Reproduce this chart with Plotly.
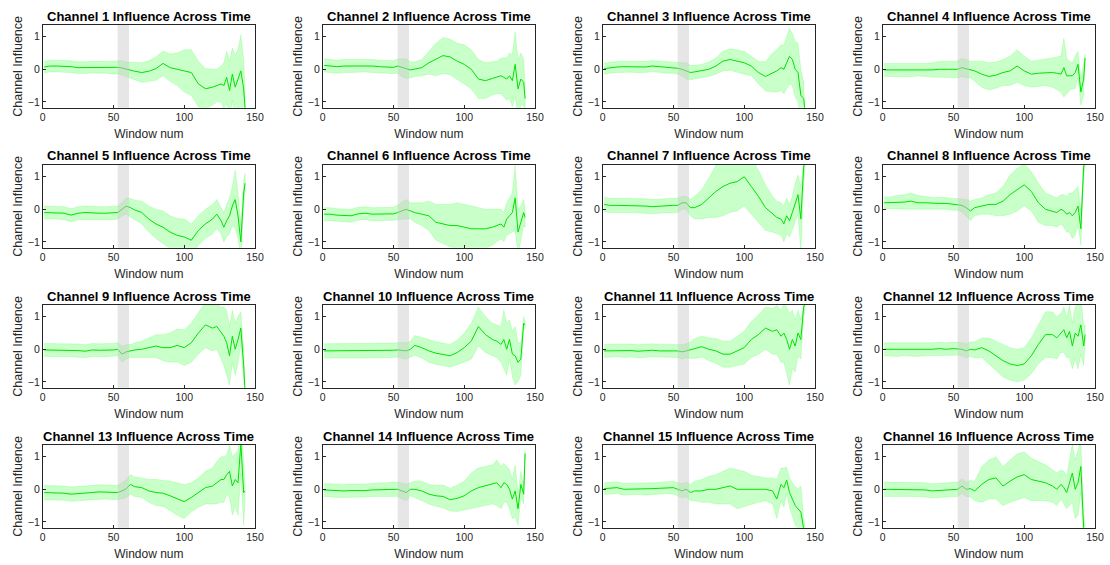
import plotly.graph_objects as go

# ---------------- data ----------------
WINDOW = [1, 5, 10, 15, 20, 25, 30, 35, 40, 45,
          50, 53, 56, 59, 62, 65, 70, 75, 80, 85,
          90, 95, 100, 105, 110, 115, 120, 123, 126, 128,
          130, 132, 134, 136, 138, 140, 142, 143]

GRAY_SPAN = [53, 61]

CH1_MEAN = [0.07, 0.10, 0.10, 0.10, 0.08, 0.05, 0.05, 0.07, 0.06, 0.06,
            0.05, 0.06, 0.04, 0.00, -0.03, -0.06, -0.10, -0.06, 0.02, 0.18,
            0.05, 0.00, -0.05, -0.10, -0.45, -0.60, -0.55, -0.50, -0.45, -0.50,
            -0.25, -0.65, -0.15, -0.55, -0.30, -0.05, -0.60, -1.20]
CH1_SD = [0.18, 0.18, 0.18, 0.18, 0.18, 0.18, 0.18, 0.18, 0.18, 0.18,
          0.20, 0.20, 0.22, 0.22, 0.24, 0.26, 0.30, 0.32, 0.36, 0.38,
          0.42, 0.50, 0.65, 0.70, 0.70, 0.62, 0.55, 0.50, 0.55, 0.70,
          0.80, 0.90, 0.80, 1.00, 0.90, 1.10, 0.90, 0.50]

CH2_MEAN = [0.12, 0.10, 0.08, 0.10, 0.10, 0.10, 0.12, 0.10, 0.08, 0.08,
            0.06, 0.10, 0.05, 0.02, -0.02, 0.00, 0.05, 0.20, 0.30, 0.42,
            0.38, 0.25, 0.15, 0.00, -0.30, -0.35, -0.28, -0.25, -0.20, -0.25,
            -0.30, -0.20, -0.35, 0.15, -0.60, -0.30, -0.40, -0.90]
CH2_SD = [0.20, 0.20, 0.20, 0.20, 0.20, 0.20, 0.20, 0.20, 0.20, 0.20,
          0.20, 0.22, 0.28, 0.30, 0.25, 0.22, 0.25, 0.35, 0.50, 0.55,
          0.55, 0.55, 0.60, 0.60, 0.60, 0.55, 0.50, 0.50, 0.55, 0.60,
          0.65, 0.70, 0.80, 1.00, 0.90, 0.80, 0.70, 0.40]

CH3_MEAN = [0.02, 0.05, 0.07, 0.08, 0.08, 0.06, 0.07, 0.10, 0.08, 0.05,
            0.05, 0.03, 0.00, -0.05, -0.10, -0.08, -0.05, 0.00, 0.10, 0.25,
            0.30, 0.25, 0.20, 0.10, -0.10, -0.22, -0.10, -0.05, 0.05, 0.00,
            0.20, 0.40, 0.30, 0.00, -0.10, -0.80, -0.90, -1.30]
CH3_SD = [0.17, 0.17, 0.17, 0.17, 0.17, 0.17, 0.17, 0.17, 0.17, 0.17,
          0.17, 0.18, 0.20, 0.25, 0.22, 0.20, 0.20, 0.22, 0.25, 0.30,
          0.33, 0.35, 0.35, 0.30, 0.35, 0.45, 0.60, 0.65, 0.70, 0.75,
          0.80, 0.85, 0.80, 0.85, 0.90, 0.80, 0.50, 0.30]

CH4_MEAN = [-0.02, -0.02, -0.03, -0.02, -0.03, -0.01, -0.02, -0.02, 0.00, 0.00,
            -0.01, 0.00, 0.05, 0.02, -0.01, -0.05, -0.15, -0.22, -0.18, -0.10,
            -0.05, 0.10, -0.05, -0.15, -0.12, -0.10, -0.10, -0.12, -0.15, 0.05,
            -0.20, -0.20, -0.20, -0.10, 0.15, -0.70, -0.30, 0.35]
CH4_SD = [0.20, 0.20, 0.20, 0.20, 0.20, 0.20, 0.20, 0.22, 0.24, 0.25,
          0.25, 0.26, 0.28, 0.28, 0.25, 0.30, 0.40, 0.42, 0.40, 0.40,
          0.45, 0.50, 0.45, 0.40, 0.40, 0.40, 0.45, 0.50, 0.55, 0.90,
          0.55, 0.45, 0.40, 0.50, 0.40, 0.40, 0.50, 0.10]

CH5_MEAN = [-0.10, -0.10, -0.10, -0.12, -0.18, -0.12, -0.10, -0.12, -0.12, -0.12,
            -0.12, -0.10, 0.00, 0.10, 0.05, -0.02, -0.10, -0.30, -0.45, -0.55,
            -0.70, -0.80, -0.85, -0.95, -0.65, -0.45, -0.30, -0.15, -0.35, -0.55,
            -0.35, -0.20, 0.10, 0.30, -0.20, -1.00, 0.50, 0.80]
CH5_SD = [0.20, 0.20, 0.20, 0.20, 0.20, 0.20, 0.20, 0.20, 0.20, 0.20,
          0.20, 0.20, 0.20, 0.25, 0.28, 0.30, 0.35, 0.40, 0.45, 0.50,
          0.50, 0.52, 0.55, 0.50, 0.45, 0.45, 0.45, 0.45, 0.40, 0.45,
          0.50, 0.55, 0.60, 0.90, 0.70, 0.50, 0.40, 0.30]

CH6_MEAN = [-0.15, -0.15, -0.18, -0.18, -0.20, -0.14, -0.12, -0.15, -0.15, -0.15,
            -0.14, -0.10, -0.05, 0.00, -0.05, -0.10, -0.15, -0.20, -0.40, -0.45,
            -0.50, -0.50, -0.55, -0.60, -0.60, -0.60, -0.55, -0.50, -0.45, -0.55,
            -0.30, -0.20, -0.10, 0.35, -0.70, -0.40, -0.10, -0.25]
CH6_SD = [0.20, 0.20, 0.20, 0.20, 0.20, 0.20, 0.20, 0.20, 0.20, 0.20,
          0.20, 0.22, 0.25, 0.30, 0.25, 0.30, 0.35, 0.45, 0.55, 0.60,
          0.65, 0.70, 0.70, 0.70, 0.65, 0.60, 0.55, 0.50, 0.45, 0.45,
          0.50, 0.55, 0.60, 1.00, 0.70, 0.50, 0.40, 0.30]

CH7_MEAN = [0.15, 0.12, 0.12, 0.12, 0.12, 0.10, 0.10, 0.08, 0.10, 0.12,
            0.12, 0.12, 0.20, 0.20, 0.05, 0.05, 0.15, 0.35, 0.55, 0.70,
            0.80, 0.85, 1.00, 0.70, 0.40, 0.05, -0.15, -0.25, -0.30, -0.45,
            -0.20, -0.35, -0.10, 0.20, 0.45, -0.30, 1.30, 1.50]
CH7_SD = [0.22, 0.22, 0.22, 0.22, 0.22, 0.22, 0.22, 0.22, 0.22, 0.22,
          0.22, 0.22, 0.20, 0.20, 0.25, 0.35, 0.45, 0.60, 0.80, 0.90,
          0.90, 0.90, 0.90, 0.85, 0.80, 0.70, 0.55, 0.50, 0.50, 0.55,
          0.55, 0.50, 0.50, 0.60, 0.60, 1.00, 0.50, 0.30]

CH8_MEAN = [0.20, 0.20, 0.22, 0.22, 0.25, 0.20, 0.20, 0.18, 0.18, 0.18,
            0.15, 0.15, 0.12, 0.05, -0.05, 0.05, 0.10, 0.15, 0.15, 0.25,
            0.45, 0.60, 0.75, 0.55, 0.20, 0.00, -0.05, -0.10, 0.00, -0.05,
            -0.15, -0.10, -0.20, -0.10, 0.10, -0.60, 1.30, 1.50]
CH8_SD = [0.18, 0.18, 0.20, 0.22, 0.25, 0.22, 0.20, 0.18, 0.18, 0.18,
          0.18, 0.18, 0.20, 0.25, 0.30, 0.25, 0.25, 0.30, 0.35, 0.45,
          0.60, 0.65, 0.65, 0.60, 0.60, 0.50, 0.45, 0.45, 0.45, 0.50,
          0.55, 0.60, 0.70, 0.70, 0.60, 0.50, 0.30, 0.20]

CH9_MEAN = [-0.02, -0.02, -0.02, -0.03, -0.03, -0.04, -0.06, -0.02, -0.03, -0.03,
            -0.02, 0.00, -0.15, -0.08, -0.05, -0.02, 0.00, 0.05, 0.10, 0.05,
            0.05, 0.12, 0.05, 0.20, 0.50, 0.75, 0.65, 0.70, 0.50, 0.40,
            0.20, -0.20, 0.40, 0.00, 0.30, 0.65, -0.50, -1.30]
CH9_SD = [0.20, 0.20, 0.20, 0.20, 0.20, 0.20, 0.20, 0.20, 0.20, 0.20,
          0.20, 0.20, 0.25, 0.22, 0.20, 0.22, 0.25, 0.30, 0.35, 0.40,
          0.45, 0.50, 0.55, 0.60, 0.65, 0.70, 0.70, 0.70, 0.80, 0.90,
          1.00, 0.90, 0.80, 0.80, 0.70, 0.50, 0.50, 0.30]

CH10_MEAN = [-0.05, -0.05, -0.05, -0.04, -0.05, -0.05, -0.05, -0.04, -0.05, -0.04,
             -0.03, -0.02, -0.03, -0.05, 0.00, 0.12, 0.05, -0.05, -0.12, -0.15,
             -0.20, -0.10, 0.05, 0.25, 0.70, 0.45, 0.30, 0.25, 0.15, 0.30,
             0.00, 0.30, -0.15, -0.20, -0.40, -0.30, 0.80, 0.75]
CH10_SD = [0.22, 0.22, 0.22, 0.22, 0.22, 0.22, 0.22, 0.22, 0.22, 0.22,
           0.22, 0.22, 0.25, 0.25, 0.25, 0.30, 0.32, 0.35, 0.35, 0.35,
           0.35, 0.38, 0.45, 0.55, 0.60, 0.55, 0.50, 0.50, 0.55, 0.90,
           0.80, 0.60, 0.70, 0.90, 0.60, 0.50, 0.20, 0.10]

CH11_MEAN = [-0.05, -0.05, -0.03, -0.05, -0.04, -0.06, -0.05, -0.03, -0.05, -0.04,
             -0.05, -0.05, -0.08, -0.05, -0.02, 0.02, 0.08, 0.00, -0.05, -0.15,
             -0.15, -0.05, 0.05, 0.30, 0.45, 0.65, 0.55, 0.60, 0.40, 0.50,
             0.30, 0.00, 0.30, 0.10, 0.50, 0.30, 1.30, 1.40]
CH11_SD = [0.20, 0.20, 0.20, 0.20, 0.20, 0.20, 0.20, 0.20, 0.20, 0.20,
           0.20, 0.20, 0.22, 0.22, 0.25, 0.30, 0.32, 0.35, 0.38, 0.40,
           0.40, 0.45, 0.50, 0.55, 0.60, 0.65, 0.70, 0.75, 0.80, 0.90,
           1.00, 1.10, 0.90, 0.80, 0.70, 0.60, 0.30, 0.20]

CH12_MEAN = [0.00, 0.00, -0.02, 0.00, 0.00, -0.02, 0.00, 0.00, 0.02, 0.00,
             0.02, 0.02, 0.00, -0.05, 0.00, -0.02, 0.05, -0.05, -0.20, -0.35,
             -0.45, -0.50, -0.45, -0.20, 0.15, 0.45, 0.45, 0.35, 0.50, 0.60,
             0.35, 0.55, 0.10, 0.50, 0.40, 0.75, 0.10, 0.45]
CH12_SD = [0.20, 0.20, 0.20, 0.20, 0.20, 0.20, 0.20, 0.20, 0.20, 0.20,
           0.20, 0.20, 0.20, 0.22, 0.22, 0.25, 0.30, 0.40, 0.45, 0.50,
           0.50, 0.50, 0.50, 0.55, 0.60, 0.70, 0.70, 0.65, 0.60, 0.70,
           0.60, 0.80, 0.70, 0.80, 1.00, 0.90, 0.60, 0.30]

CH13_MEAN = [-0.10, -0.10, -0.12, -0.12, -0.15, -0.14, -0.12, -0.10, -0.08, -0.08,
             -0.10, -0.10, -0.05, 0.02, 0.15, 0.08, 0.05, -0.05, -0.10, -0.12,
             -0.20, -0.30, -0.38, -0.25, -0.10, 0.05, 0.10, 0.20, 0.30, 0.30,
             0.45, 0.55, 0.10, 0.30, 0.20, 1.40, -0.10, -0.05]
CH13_SD = [0.22, 0.22, 0.22, 0.22, 0.22, 0.22, 0.22, 0.22, 0.22, 0.22,
           0.22, 0.22, 0.25, 0.28, 0.30, 0.30, 0.30, 0.35, 0.40, 0.40,
           0.45, 0.50, 0.52, 0.45, 0.45, 0.50, 0.55, 0.65, 0.70, 0.70,
           0.60, 0.80, 0.90, 0.80, 1.00, 0.90, 1.00, 0.20]

CH14_MEAN = [-0.02, -0.03, -0.05, -0.05, -0.04, -0.05, -0.04, -0.02, -0.02, 0.00,
             0.00, 0.00, -0.05, -0.10, 0.00, 0.00, -0.05, -0.15, -0.20, -0.22,
             -0.32, -0.28, -0.20, -0.05, 0.05, 0.10, 0.15, 0.20, 0.05, 0.20,
             0.15, 0.00, -0.30, -0.05, -0.60, 0.15, -0.15, 1.10]
CH14_SD = [0.20, 0.20, 0.20, 0.20, 0.20, 0.20, 0.20, 0.20, 0.20, 0.20,
           0.22, 0.22, 0.25, 0.25, 0.20, 0.25, 0.30, 0.30, 0.32, 0.35,
           0.35, 0.40, 0.45, 0.55, 0.60, 0.60, 0.60, 0.70, 0.65, 0.60,
           0.55, 0.60, 0.60, 0.80, 0.50, 0.40, 0.30, 0.10]

CH15_MEAN = [0.02, 0.03, 0.05, 0.00, 0.00, 0.02, 0.00, 0.02, 0.03, 0.05,
             0.05, 0.00, -0.05, 0.00, -0.10, -0.05, -0.05, 0.00, 0.00, 0.05,
             0.10, 0.00, 0.00, -0.02, 0.00, 0.00, -0.05, -0.30, 0.15, 0.05,
             0.28, -0.10, -0.30, -0.50, -0.60, -0.70, -1.20, -1.30]
CH15_SD = [0.18, 0.18, 0.18, 0.18, 0.18, 0.18, 0.18, 0.18, 0.18, 0.18,
           0.20, 0.20, 0.22, 0.22, 0.25, 0.30, 0.35, 0.40, 0.45, 0.50,
           0.55, 0.60, 0.55, 0.45, 0.40, 0.35, 0.40, 0.60, 0.50, 0.60,
           0.40, 0.45, 0.50, 0.60, 0.60, 0.80, 0.30, 0.20]

CH16_MEAN = [0.00, 0.00, 0.00, 0.00, 0.00, 0.00, -0.02, -0.05, -0.03, -0.02,
             0.00, 0.00, 0.10, 0.00, 0.02, -0.05, 0.15, 0.30, 0.35, 0.10,
             0.25, 0.38, 0.45, 0.30, 0.25, 0.20, 0.10, 0.00, 0.15, 0.05,
             -0.10, 0.20, 0.50, 0.00, 0.20, 0.70, -1.20, -1.30]
CH16_SD = [0.22, 0.22, 0.22, 0.22, 0.22, 0.22, 0.22, 0.22, 0.22, 0.22,
           0.22, 0.22, 0.22, 0.22, 0.25, 0.30, 0.55, 0.60, 0.65, 0.60,
           0.65, 0.70, 0.70, 0.65, 0.60, 0.55, 0.50, 0.50, 0.45, 0.50,
           0.50, 0.70, 0.90, 0.90, 1.00, 0.80, 0.40, 0.20]

MEANS = [CH1_MEAN, CH2_MEAN, CH3_MEAN, CH4_MEAN, CH5_MEAN, CH6_MEAN, CH7_MEAN, CH8_MEAN,
         CH9_MEAN, CH10_MEAN, CH11_MEAN, CH12_MEAN, CH13_MEAN, CH14_MEAN, CH15_MEAN, CH16_MEAN]
SDS = [CH1_SD, CH2_SD, CH3_SD, CH4_SD, CH5_SD, CH6_SD, CH7_SD, CH8_SD,
       CH9_SD, CH10_SD, CH11_SD, CH12_SD, CH13_SD, CH14_SD, CH15_SD, CH16_SD]

X_TICKS = [0, 50, 100, 150]
Y_TICKS = [-1, 0, 1]

# ---------------- layout ----------------
W, H = 1110, 565
AX_LEFT, AX_WIDTH, COL_STEP = 42.7, 212.3, 280
AX_TOP, AX_HEIGHT, ROW_STEP = 25, 82.7, 140
FONT = "Liberation Sans, Arial, sans-serif"
AX_COLOR = "rgb(38,38,38)"
LINE_COLOR = "rgb(0,225,0)"
BAND_COLOR = "rgba(0,255,0,0.21)"
GRAY_COLOR = "rgba(200,200,200,0.45)"

fig = go.Figure()
layout_axes = {}
annotations = []
shapes = []

for i in range(16):
    r, c = divmod(i, 4)
    n = i + 1
    xa = "x" if n == 1 else f"x{n}"
    ya = "y" if n == 1 else f"y{n}"
    mean = MEANS[i]
    sd = SDS[i]
    upper = [m + s for m, s in zip(mean, sd)]
    lower = [m - s for m, s in zip(mean, sd)]

    fig.add_trace(go.Scatter(
        x=WINDOW + WINDOW[::-1], y=upper + lower[::-1],
        fill="toself", fillcolor=BAND_COLOR,
        line=dict(width=0.6, color="rgba(0,255,0,0.25)"),
        mode="lines", hoverinfo="skip", showlegend=False,
        xaxis=xa, yaxis=ya))
    fig.add_trace(go.Scatter(
        x=WINDOW, y=mean, mode="lines",
        line=dict(color=LINE_COLOR, width=1),
        showlegend=False, xaxis=xa, yaxis=ya))

    x0 = (AX_LEFT + c * COL_STEP) / W
    x1 = (AX_LEFT + AX_WIDTH + c * COL_STEP) / W
    top = AX_TOP + r * ROW_STEP
    y1 = 1 - top / H
    y0 = 1 - (top + AX_HEIGHT) / H

    common = dict(showline=True, mirror=True, linecolor=AX_COLOR, linewidth=0.7,
                  ticks="inside", ticklen=3, tickcolor=AX_COLOR, tickwidth=0.7,
                  showgrid=False, zeroline=False, automargin=False,
                  tickfont=dict(family=FONT, size=10.5, color=AX_COLOR))
    layout_axes["xaxis" if n == 1 else f"xaxis{n}"] = dict(
        domain=[x0, x1], range=[0, 150], anchor=ya, tickvals=X_TICKS,
        title=dict(text="Window num", standoff=7,
                   font=dict(family=FONT, size=12, color=AX_COLOR)),
        **common)
    layout_axes["yaxis" if n == 1 else f"yaxis{n}"] = dict(
        domain=[y0, y1], range=[-1.18, 1.36], anchor=xa, tickvals=Y_TICKS,
        title=dict(text="Channel Influence", standoff=2,
                   font=dict(family=FONT, size=12.5, color=AX_COLOR)),
        **common)

    shapes.append(dict(type="rect", xref=xa, yref=f"{ya} domain",
                       x0=GRAY_SPAN[0], x1=GRAY_SPAN[1], y0=0, y1=1,
                       fillcolor=GRAY_COLOR, line=dict(width=0), layer="above"))

    annotations.append(dict(
        text=f"<b>Channel {n} Influence Across Time</b>",
        xref="paper", yref="paper", x=(x0 + x1) / 2, y=1 - (top - 9) / H,
        xanchor="center", yanchor="middle", showarrow=False,
        font=dict(family=FONT, size=13, color="black")))

fig.update_layout(
    width=W, height=H, margin=dict(l=0, r=0, t=0, b=0),
    paper_bgcolor="white", plot_bgcolor="white",
    font=dict(family=FONT),
    shapes=shapes, annotations=annotations,
    **layout_axes)

fig.write_html("out.html")
